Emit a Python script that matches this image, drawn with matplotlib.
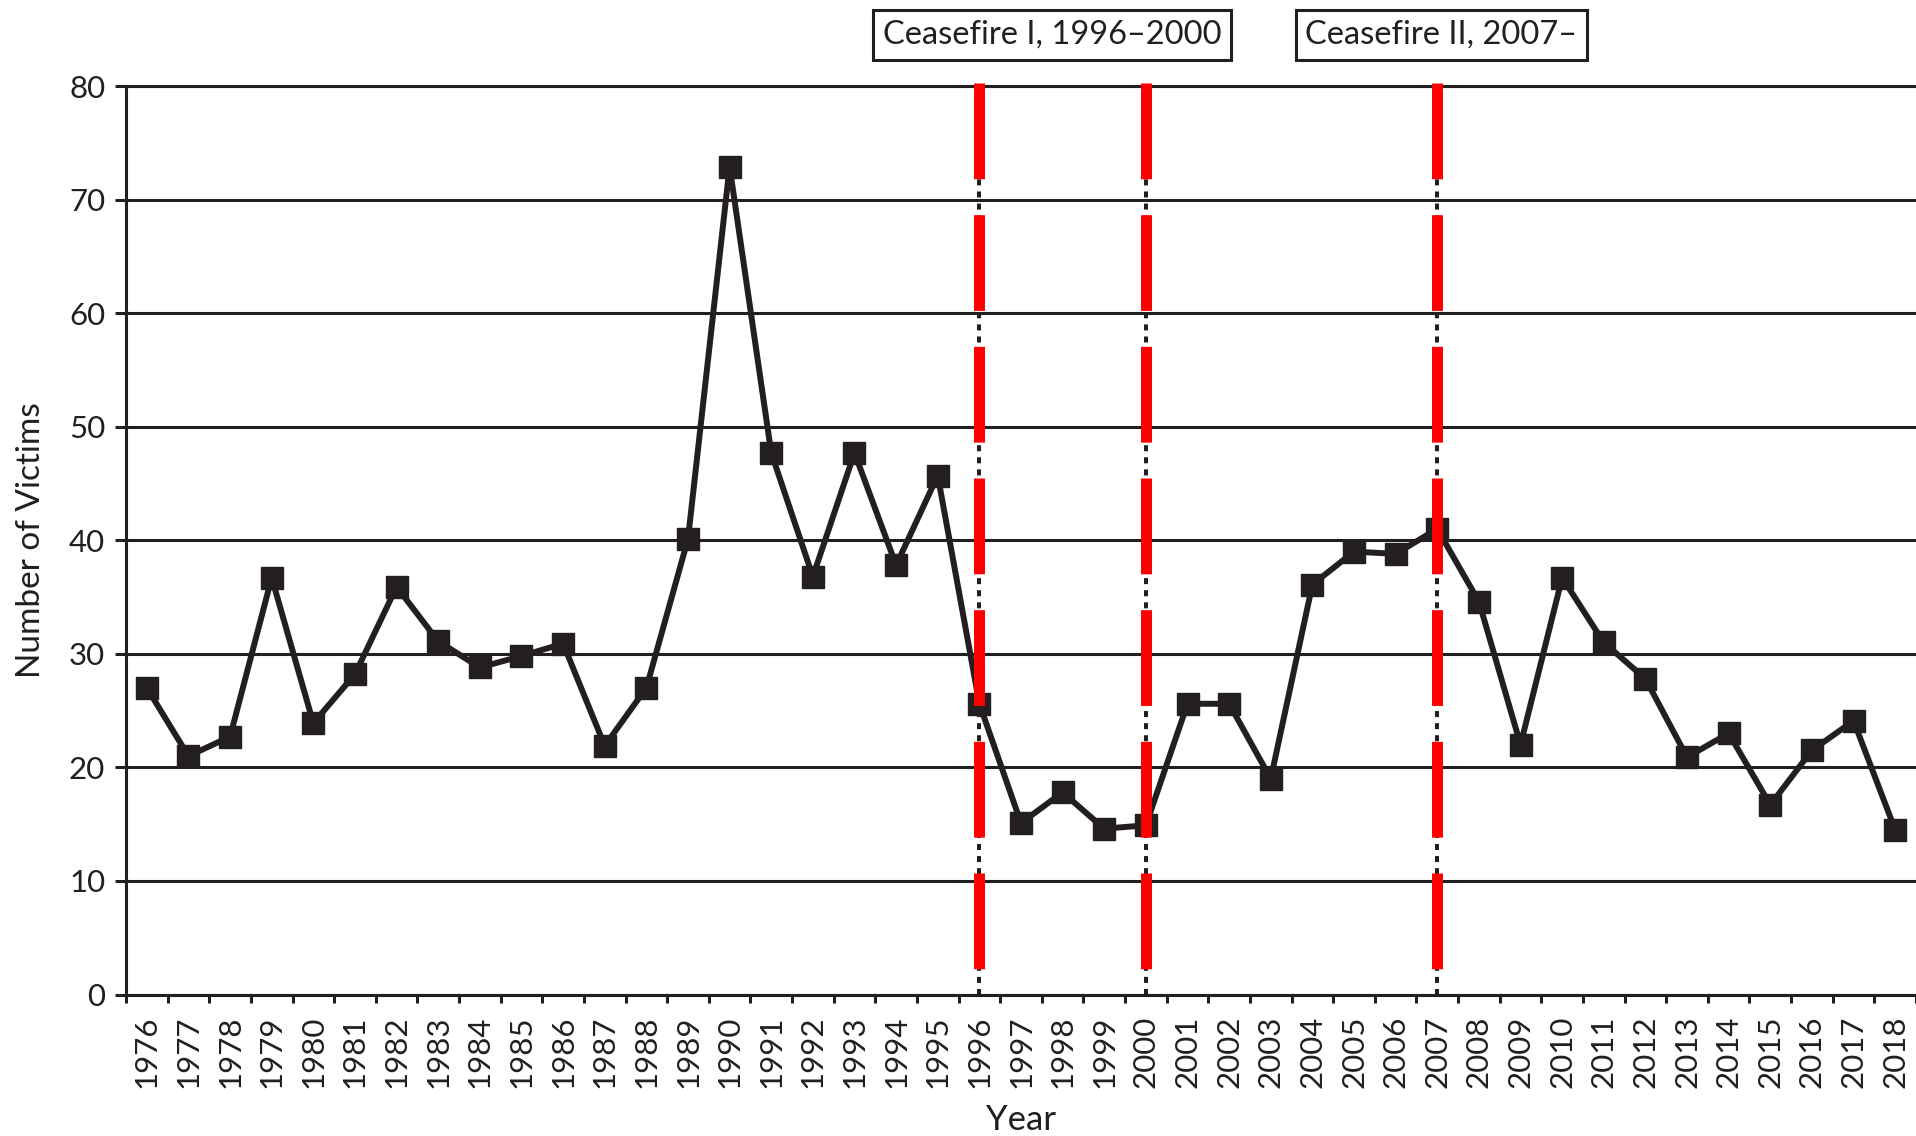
import matplotlib
matplotlib.use('Agg')
import matplotlib.pyplot as plt
import matplotlib.transforms as mtransforms
import numpy as np

plt.rcParams['font.family'] = ['Lato', 'DejaVu Sans']

# ---- data ----
years = list(range(1976, 2019))
victims = [27, 21, 22.7, 36.7, 23.9, 28.2, 35.9, 31.1, 28.8, 29.8,
           30.9, 21.9, 27, 40.1, 72.9, 47.7, 36.8, 47.7, 37.8, 45.7,
           25.6, 15.1, 17.8, 14.6, 14.9, 25.6, 25.6, 19.0, 36.1, 39.0,
           38.8, 41.0, 34.6, 22.0, 36.7, 31.0, 27.8, 20.9, 23.0, 16.7,
           21.5, 24.1, 14.5]
ceasefire_years = [1996, 2000, 2007]
ceasefire_labels = ['Ceasefire I, 1996\u20132000', 'Ceasefire II, 2007\u2013']
ceasefire_label_x = [1997.75, 2007.1]
y_ticks = list(range(0, 81, 10))

ink = '#231f20'
W, H = 1916, 1136
fig = plt.figure(figsize=(W / 100, H / 100), dpi=100)
ax_left, ax_right, ax_top, ax_bottom = 126, 1916, 86, 994.5
ax = fig.add_axes([ax_left / W, (H - ax_bottom) / H,
                   (ax_right - ax_left) / W, (ax_bottom - ax_top) / H])

step = 41.92
ax.set_xlim(1975.5, 1975.5 + (ax_right - ax_left) / step)
ax.set_ylim(0, 80)

# grid
ax.set_yticks(y_ticks)
ax.yaxis.grid(True, color=ink, lw=2.2)
ax.set_axisbelow(True)
ax.spines['right'].set_visible(False)
for s in ['left', 'bottom', 'top']:
    ax.spines[s].set_color(ink)
    ax.spines[s].set_linewidth(2.2)

# data line
ax.plot(years, victims, color=ink, lw=4.3, marker='s', ms=16.5,
        zorder=3, clip_on=False)

# ceasefire lines
for cy in ceasefire_years:
    ax.plot([cy, cy], [0, 80], color=ink, lw=2.9, dashes=(1.5, 1.5), zorder=4)
    ax.plot([cy, cy], [80.25, 0], color='#ff0000', lw=7.9,
            dashes=(8.73, 3.27), dash_capstyle='butt', zorder=5, clip_on=False)

# ticks
ax.set_xticks(years)
ax.set_xticklabels([str(y) for y in years], rotation=90, fontsize=22.5, color=ink)
ax.set_xticks(np.arange(1975.5, 2019, 1), minor=True)
ax.tick_params(axis='x', which='major', length=0, pad=15)
ax.tick_params(axis='x', which='minor', length=6, width=2.2, color=ink)
ax.tick_params(axis='y', length=8, width=2.2, color=ink, pad=7,
               labelsize=22.5, labelcolor=ink)

# axis labels
ax.set_ylabel('Number of Victims', fontsize=24, color=ink)
ax.yaxis.set_label_coords(-0.0447, 0.5)
ax.set_xlabel('Year', fontsize=25, color=ink)
ax.xaxis.set_label_coords(0.5, -0.121)

# ceasefire boxes
trans = mtransforms.blended_transform_factory(ax.transData, fig.transFigure)
for lx, lab in zip(ceasefire_label_x, ceasefire_labels):
    ax.text(lx, 1 - 35 / H, lab, transform=trans, ha='center', va='center',
            fontsize=23.5, color=ink,
            bbox=dict(boxstyle='square,pad=0.3', fc='white', ec=ink, lw=2.2))

fig.savefig('out.png', dpi=100)
